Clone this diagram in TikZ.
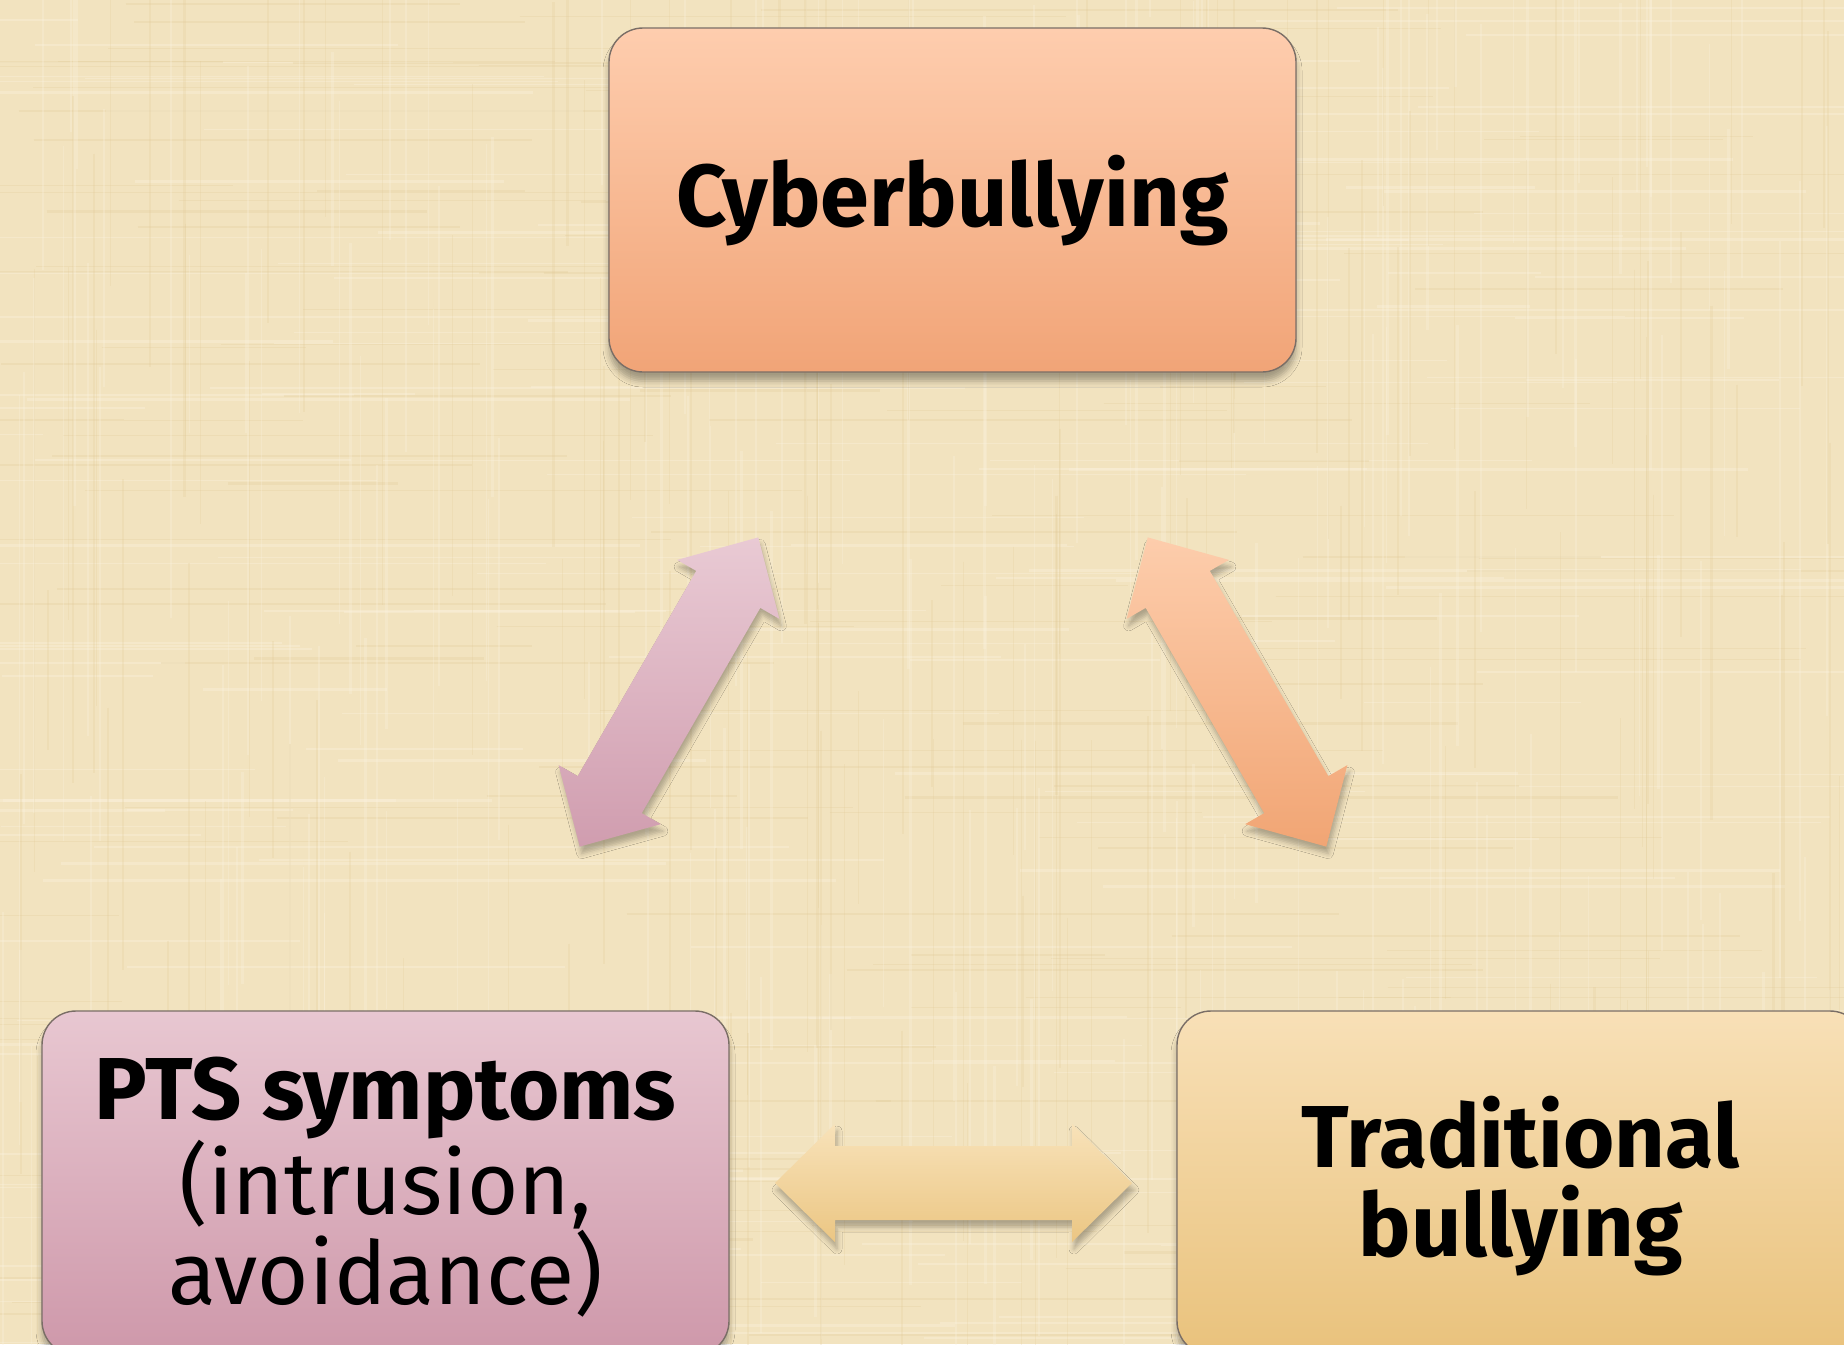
\documentclass[tikz,border=0pt]{standalone}
\usepackage{fontspec}
\setmainfont{Fira Sans}
\usetikzlibrary{shadows.blur}

% palette
\definecolor{bgbase}{HTML}{F2E3BF}
\definecolor{bglight}{HTML}{FBF3DF}
\definecolor{bgdark}{HTML}{E0C995}
\definecolor{boxline}{HTML}{7A6E66}
\definecolor{cyberTop}{HTML}{FECDAE}
\definecolor{cyberBot}{HTML}{F1A477}
\definecolor{ptsTop}{HTML}{E8C7D1}
\definecolor{ptsBot}{HTML}{CE98AA}
\definecolor{tradTop}{HTML}{F8E0B7}
\definecolor{tradBot}{HTML}{E9C27C}
\definecolor{arrPinkTop}{HTML}{E9CAD4}
\definecolor{arrPinkBot}{HTML}{D09DAF}
\definecolor{arrPeachTop}{HTML}{FDCDAC}
\definecolor{arrPeachBot}{HTML}{F1A574}
\definecolor{arrSandTop}{HTML}{F8E2B9}
\definecolor{arrSandBot}{HTML}{EBC683}

% double-headed block arrow: #1 centre, #2 angle, #3 style
\newcommand{\blockarrow}[3]{%
  \path[#3]
    ([shift={(#1)},rotate=#2]-178.5,0)
    -- ([shift={(#1)},rotate=#2]-118.5,59)
    -- ([shift={(#1)},rotate=#2]-118.5,37)
    -- ([shift={(#1)},rotate=#2]118.5,37)
    -- ([shift={(#1)},rotate=#2]118.5,59)
    -- ([shift={(#1)},rotate=#2]178.5,0)
    -- ([shift={(#1)},rotate=#2]118.5,-59)
    -- ([shift={(#1)},rotate=#2]118.5,-37)
    -- ([shift={(#1)},rotate=#2]-118.5,-37)
    -- ([shift={(#1)},rotate=#2]-118.5,-59)
    -- cycle;}

\begin{document}
\begin{tikzpicture}[x=1pt,y=1pt,
  box/.style={rectangle, rounded corners=34pt, draw=boxline, line width=1.4pt,
    minimum width=687pt, minimum height=344pt, inner sep=0pt,
    blur shadow={shadow xshift=0pt, shadow yshift=-9pt,
      shadow blur radius=6pt, shadow opacity=32}},
  lbl/.style={font=\fontsize{88}{89.5}\selectfont, align=center,
    text=black, inner sep=0pt},
  linkarrow/.style={blur shadow={shadow xshift=2pt, shadow yshift=-7pt,
      shadow blur radius=5pt, shadow opacity=28}},
]
\useasboundingbox (0,0) rectangle (1844,-1344);
\clip (0,0) rectangle (1844,-1344);

% linen background
\fill[bgbase] (0,0) rectangle (1844,-1344);
\pgfmathsetseed{4242}
\foreach \k in {1,...,190}{
  \pgfmathsetmacro{\yy}{-1344*rnd}
  \pgfmathsetmacro{\ww}{0.6+2.4*rnd}
  \pgfmathsetmacro{\xa}{1844*rnd-300}
  \pgfmathsetmacro{\lenA}{150+650*rnd}
  \draw[bglight, opacity=0.35, line width=\ww pt] (\xa,\yy) -- ++(\lenA,0);
}
\foreach \k in {1,...,140}{
  \pgfmathsetmacro{\yy}{-1344*rnd}
  \pgfmathsetmacro{\ww}{0.6+1.8*rnd}
  \pgfmathsetmacro{\xa}{1844*rnd-300}
  \pgfmathsetmacro{\lenA}{150+650*rnd}
  \draw[bgdark, opacity=0.25, line width=\ww pt] (\xa,\yy) -- ++(\lenA,0);
}
\foreach \k in {1,...,190}{
  \pgfmathsetmacro{\xx}{1844*rnd}
  \pgfmathsetmacro{\ww}{0.6+2.4*rnd}
  \pgfmathsetmacro{\ya}{-1344*rnd+250}
  \pgfmathsetmacro{\lenA}{150+600*rnd}
  \draw[bglight, opacity=0.3, line width=\ww pt] (\xx,\ya) -- ++(0,-\lenA);
}
\foreach \k in {1,...,140}{
  \pgfmathsetmacro{\xx}{1844*rnd}
  \pgfmathsetmacro{\ww}{0.6+1.8*rnd}
  \pgfmathsetmacro{\ya}{-1344*rnd+250}
  \pgfmathsetmacro{\lenA}{150+600*rnd}
  \draw[bgdark, opacity=0.22, line width=\ww pt] (\xx,\ya) -- ++(0,-\lenA);
}

% the three boxes
\node[box, top color=cyberTop, bottom color=cyberBot] (cyber) at (952.5,-200) {};
\node[box, top color=ptsTop, bottom color=ptsBot] (pts) at (385.5,-1183) {};
\node[box, top color=tradTop, bottom color=tradBot] (trad) at (1520.5,-1183) {};

% labels
\node[lbl, anchor=base] (cyberlbl) at ([yshift=-26pt]cyber.center)
  {\bfseries Cyberbullying};
\node[lbl] (ptslbl) at ([yshift=-4pt]pts.center)
  {\bfseries PTS symptoms\\(intrusion,\\avoidance)};
\node[lbl] (tradlbl) at ([yshift=-3pt]trad.center)
  {\bfseries Traditional\\\bfseries bullying};

% two-way links between the boxes
\coordinate (linkCP) at (669,-692);
\coordinate (linkCT) at (1237,-692);
\coordinate (linkPT) at (953.5,-1183);
\blockarrow{linkCP}{60}{linkarrow, top color=arrPinkTop, bottom color=arrPinkBot}
\blockarrow{linkCT}{120}{linkarrow, top color=arrPeachTop, bottom color=arrPeachBot}
\blockarrow{linkPT}{0}{linkarrow, top color=arrSandTop, bottom color=arrSandBot}
\end{tikzpicture}
\end{document}
